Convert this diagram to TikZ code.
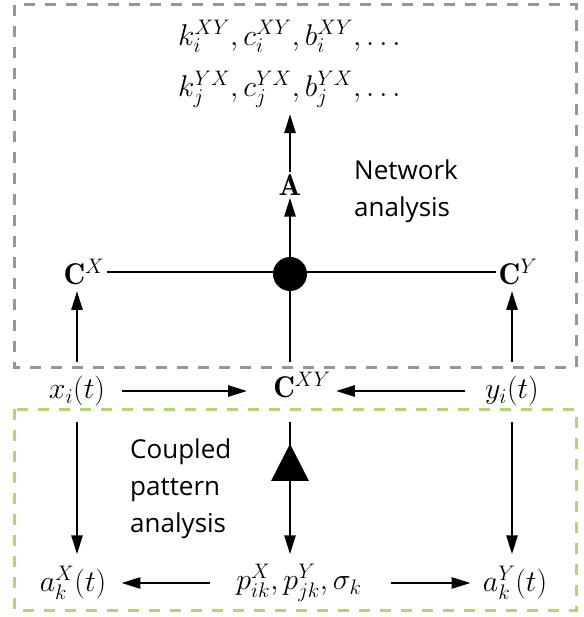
\RequirePackage{fix-cm}
\documentclass[tikz,border=0pt]{standalone}
\usepackage{amsmath}
\usepackage{fontspec}
\newfontfamily\labelfont{Open Sans}
\usetikzlibrary{arrows.meta, decorations.markings}
\definecolor{boxgray}{RGB}{150,150,155}
\definecolor{boxgreen}{RGB}{180,214,110}
\tikzstyle{var} = [inner sep=2pt, font=\fontsize{30}{51}\selectfont]
\tikzstyle{caption} = [inner sep=0pt, anchor=north west, align=left, font=\labelfont\fontsize{26}{37}\selectfont]
\tikzstyle{region} = [line width=3pt, dash pattern=on 11pt off 10pt]
\tikzstyle{link} = [line width=2.6pt]
\tikzstyle{arrow} = [line width=2.6pt, -{Triangle[length=19pt,width=11pt]}]
\tikzstyle{bigtip} = [postaction={decorate}, decoration={markings, mark=at position 0.27 with {\arrowreversed{Triangle[length=37pt,width=37pt]}}}]

\begin{document}
\begin{tikzpicture}[x=1pt, y=-1pt]
\useasboundingbox (0,0) rectangle (583,617);
% the two analysis regions
\draw[region, boxgray] (14,5) rectangle (576,367);
\draw[region, boxgreen] (14,409) rectangle (576,610);

\node (meas)[var, align=center] at (292,64) {$k_i^{XY}, c_i^{XY}, b_i^{XY}, \dots$\\$k_j^{YX}, c_j^{YX}, b_j^{YX}, \dots$};
\node (A)[var] at (290,185) {$\mathbf{A}$};
\node (hub)[circle, fill=black, minimum size=34pt, inner sep=0pt] at (290,274) {};
\node (CX)[var] at (84,272) {$\mathbf{C}^X$};
\node (CY)[var] at (518,272) {$\mathbf{C}^Y$};
\node (net)[caption] at (354,160) {Network\\analysis};

\node (xi)[var] at (77,391) {$x_i(t)$};
\node (CXY)[var] at (302,385) {$\mathbf{C}^{XY}$};
\node (yi)[var] at (512,391) {$y_i(t)$};

\node (cpa)[caption] at (130,439) {Coupled\\pattern\\analysis};
\node (akX)[var] at (73,583) {$a_k^X(t)$};
\node (pat)[var] at (299,583) {$p_{ik}^X, p_{jk}^Y, \sigma_k$};
\node (akY)[var] at (515,583) {$a_k^Y(t)$};

% network analysis
\draw[link] (CX) -- (CY);
\draw[arrow] (hub) -- (A);
\draw[arrow, shorten >=4pt] (A) -- (A |- meas.south);
\draw[link, shorten >=8pt] (hub) -- (hub |- CXY.north);
\draw[arrow, shorten <=12pt, shorten >=4pt] (xi) -- (xi |- CX.south);
\draw[arrow, shorten <=12pt, shorten >=4pt] (yi) -- (yi |- CY.south);

% time series into cross-covariance
\draw[arrow, shorten <=15pt, shorten >=24pt] (xi) -- (xi -| CXY.west);
\draw[arrow, shorten <=18pt, shorten >=3pt] (yi) -- (yi -| CXY.east);

% coupled pattern analysis
\draw[arrow, shorten <=14pt, shorten >=10pt] (xi) -- (xi |- akX.north);
\draw[arrow, shorten <=14pt, shorten >=10pt] (yi) -- (yi |- akY.north);
\draw[arrow, bigtip, shorten <=22pt, shorten >=8pt] (hub |- CXY.south) -- (hub |- pat.north);
\draw[arrow, shorten <=24pt, shorten >=13pt] (pat.west |- akX) -- (akX);
\draw[arrow, shorten <=27pt, shorten >=10pt] (pat.east |- akY) -- (akY.west);
\end{tikzpicture}
\end{document}
